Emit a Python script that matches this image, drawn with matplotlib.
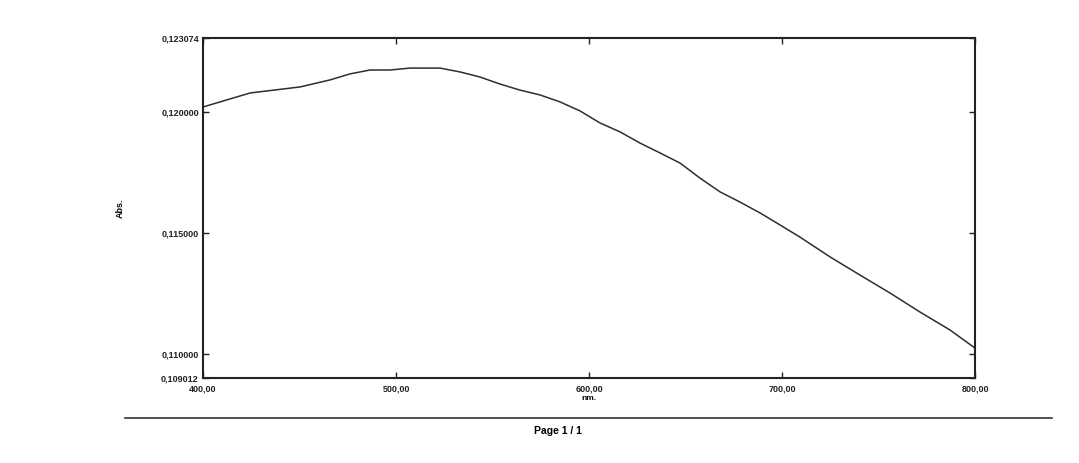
import matplotlib
matplotlib.use("Agg")
import matplotlib.pyplot as plt
from matplotlib.lines import Line2D

# Data
wavelength_nm = [400.0, 408.8, 424.4, 450.3, 465.8, 476.2, 486.5, 496.9, 507.3,
                 522.8, 533.2, 543.5, 553.9, 564.2, 574.6, 585.0, 595.3, 605.7,
                 616.1, 626.4, 636.8, 647.2, 657.5, 667.9, 678.2, 688.6, 699.0,
                 709.3, 724.9, 740.4, 755.9, 771.5, 787.0, 800.0]
absorbance = [0.12022, 0.12043, 0.12080, 0.12105, 0.12134, 0.12159, 0.12175,
              0.12175, 0.12183, 0.12183, 0.12167, 0.12146, 0.12117, 0.12092,
              0.12072, 0.12043, 0.12006, 0.11956, 0.11919, 0.11873, 0.11832,
              0.11790, 0.11728, 0.11671, 0.11629, 0.11584, 0.11534, 0.11484,
              0.11402, 0.11327, 0.11253, 0.11174, 0.11100, 0.11025]

x_ticks = [400, 500, 600, 700, 800]
x_tick_labels = ["400,00", "500,00", "600,00", "700,00", "800,00"]
y_ticks = [0.109012, 0.110000, 0.115000, 0.120000, 0.123074]
y_tick_labels = ["0,109012", "0,110000", "0,115000", "0,120000", "0,123074"]

plt.rcParams['font.family'] = ['Liberation Sans', 'DejaVu Sans']

W, H = 1079, 463
fig = plt.figure(figsize=(W / 100, H / 100), dpi=100)
fig.patch.set_facecolor("white")

ax = fig.add_axes([203 / W, 1 - 378 / H, (975 - 203) / W, (378 - 38) / H])
ax.plot(wavelength_nm, absorbance, color="#2e2e2e", lw=1.1)

ax.set_xlim(400, 800)
ax.set_ylim(0.109012, 0.123074)
ax.set_xticks(x_ticks)
ax.set_xticklabels(x_tick_labels, fontsize=6.5, fontweight="bold")
ax.set_yticks(y_ticks)
ax.set_yticklabels(y_tick_labels, fontsize=6.5, fontweight="bold")
ax.tick_params(direction="in", length=4, width=1, top=True, right=True,
               colors="#222222")
ax.tick_params(axis="y", pad=3)
ax.tick_params(axis="x", pad=5)
for s in ax.spines.values():
    s.set_linewidth(1.5)
    s.set_color("#222222")

ax.set_ylabel("Abs.", fontsize=6.5, fontweight="bold", labelpad=26)
fig.text(589 / W, 1 - 399 / H, "nm.", fontsize=6, fontweight="bold",
         ha="center", va="center")

fig.add_artist(Line2D([125 / W, 1052 / W], [1 - 418 / H, 1 - 418 / H],
                      color="#333333", lw=1.2, transform=fig.transFigure))
fig.text(558 / W, 1 - 431 / H, "Page 1 / 1", fontsize=7.5, fontweight="bold",
         ha="center", va="center")

fig.savefig("out.png", dpi=100, facecolor="white")
